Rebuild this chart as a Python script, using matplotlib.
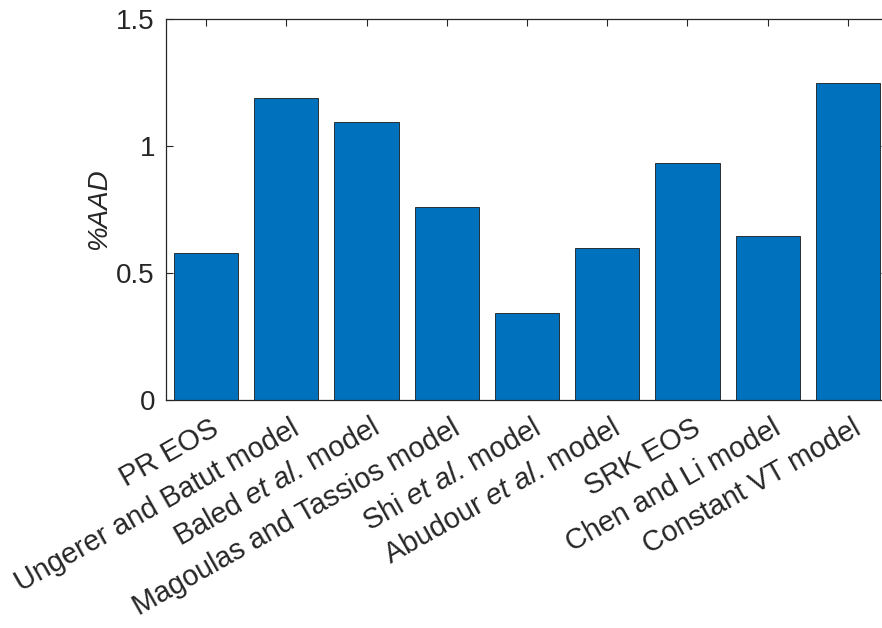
import matplotlib
matplotlib.use("Agg")
import matplotlib.pyplot as plt
from matplotlib.transforms import ScaledTranslation

plt.rcParams['font.family'] = ['Liberation Sans', 'DejaVu Sans']
plt.rcParams['mathtext.fontset'] = 'custom'
plt.rcParams['mathtext.rm'] = 'Liberation Sans'
plt.rcParams['mathtext.it'] = 'Liberation Sans:italic'

# Models compared and their average absolute deviation (%)
models = [
    "PR EOS",
    "Ungerer and Batut model",
    r"$\mathrm{Baled}\ \mathit{et\ al.}\!\ \mathrm{model}$",
    "Magoulas and Tassios model",
    r"$\mathrm{Shi}\ \mathit{et\ al.}\!\ \mathrm{model}$",
    r"$\mathrm{Abudour}\ \mathit{et\ al.}\!\ \mathrm{model}$",
    "SRK EOS",
    "Chen and Li model",
    "Constant VT model",
]
aad = [0.578, 1.189, 1.094, 0.761, 0.344, 0.597, 0.934, 0.647, 1.247]
yticks = [0, 0.5, 1, 1.5]
ytick_labels = ["0", "0.5", "1", "1.5"]

text_color = "#262626"
bar_color = "#0072BD"

fig = plt.figure(figsize=(8.82, 6.28), dpi=100)
ax = fig.add_axes([166 / 882, 1 - 400 / 628, 722 / 882, 381 / 628])

x = list(range(1, len(models) + 1))
ax.bar(x, aad, width=0.8, color=bar_color, edgecolor="#1a1a1a", linewidth=0.6, zorder=2)

ax.set_xlim(0.5, len(models) + 0.5)
ax.set_ylim(0, 1.5)
ax.set_yticks(yticks)
ax.set_yticklabels(ytick_labels)
ax.set_xticks(x)
ax.set_xticklabels(models, rotation=29.5, ha="right", va="top", rotation_mode="anchor")

ax.tick_params(axis="both", which="both", direction="in", length=5, width=0.8,
               colors=text_color, labelsize=20, top=True, right=True)
ax.tick_params(axis="x", pad=10, labelsize=20.7)
ax.tick_params(axis="y", pad=8)
for s in ax.spines.values():
    s.set_color(text_color)
    s.set_linewidth(0.9)

# nudge the slanted category labels slightly to the right
shift = ScaledTranslation(4 / 100, 0, fig.dpi_scale_trans)
for lbl in ax.get_xticklabels():
    lbl.set_transform(lbl.get_transform() + shift)

ax.set_ylabel("%AAD", fontsize=20, fontstyle="italic", color=text_color, labelpad=3)

fig.savefig("out.png", dpi=100)
